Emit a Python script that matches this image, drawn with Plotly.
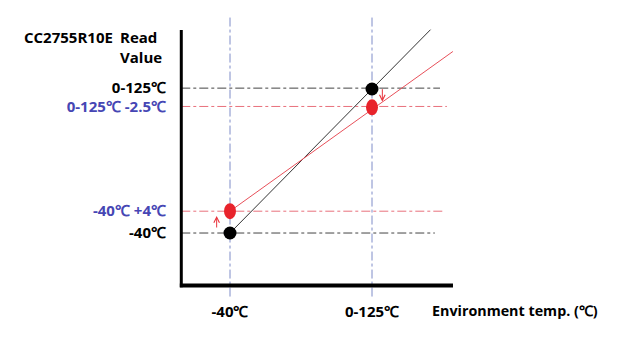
import plotly.graph_objects as go

# ---- data (schematic values) ----
env_temp = [-40, 125]                      # x positions (environment temp)
x_tick_labels = ["-40℃", "0-125℃"]
black_read = [-40, 125]                    # ideal read value
red_read = [-15, 104]                      # sensor read value (schematic offset)
black_line_x = [-40, 193]
black_line_y = [-40, 193]
red_line_x = [-40, 219]
red_line_y = [-15, 168]
y_tick_vals = [-40, -15, 105, 126]
y_tick_labels = ["-40℃", "-40℃ +4℃", "0-125℃ -2.5℃", "0-125℃"]
y_tick_colors = ["#000000", "#4646B4", "#4646B4", "#000000"]
guide_end_x = [198, 207, 212, 204]
guide_colors = ["#444444", "#E8707C", "#E8707C", "#444444"]

FONT = "Open Sans"
BLUE = "#4646B4"
RED = "#E8232B"

# layout geometry
X_RANGE = [-102.75, 222.6]
Y_RANGE = [-113.3, 207.5]
AX_X = -96.6       # y-axis line location (x value)
AX_Y = -100.2      # x-axis line location (y value)
AX_TOP = 192.6
AX_RIGHT = 219.1

fig = go.Figure()

# lines
fig.add_trace(go.Scatter(x=black_line_x, y=black_line_y, mode="lines",
                         line=dict(color="#333333", width=1), hoverinfo="skip"))
fig.add_trace(go.Scatter(x=red_line_x, y=red_line_y, mode="lines",
                         line=dict(color="#E8505A", width=1), hoverinfo="skip"))
# black dots
fig.add_trace(go.Scatter(x=env_temp, y=black_read, mode="markers",
                         marker=dict(color="black", size=13, line=dict(width=0)),
                         hoverinfo="skip"))

shapes = []
# vertical guides
for xv in env_temp:
    shapes.append(dict(type="line", xref="x", yref="y", x0=xv, x1=xv,
                       y0=Y_RANGE[0] + 0.5, y1=Y_RANGE[1] - 0.5,
                       line=dict(color="#7F8CC8", width=1, dash="dashdot"),
                       layer="below"))
# horizontal guides
for yv, xe, c in zip(y_tick_vals, guide_end_x, guide_colors):
    shapes.append(dict(type="line", xref="x", yref="y", x0=AX_X, x1=xe,
                       y0=yv, y1=yv, line=dict(color=c, width=1, dash="dashdot"),
                       layer="below"))
# axes
shapes.append(dict(type="line", xref="x", yref="y", x0=AX_X, x1=AX_X,
                   y0=AX_Y - 2, y1=AX_TOP, line=dict(color="black", width=3)))
shapes.append(dict(type="line", xref="x", yref="y", x0=AX_X - 1.7, x1=AX_RIGHT,
                   y0=AX_Y, y1=AX_Y, line=dict(color="black", width=4)))
# red elliptical dots
for xv, yv in zip(env_temp, red_read):
    shapes.append(dict(type="circle", xref="x", yref="y",
                       xsizemode="pixel", xanchor=xv, x0=-6, x1=6,
                       ysizemode="pixel", yanchor=yv, y0=-8, y1=8,
                       fillcolor=RED, line=dict(width=0), layer="above"))

annotations = [
    dict(xref="paper", yref="paper", x=(22 - 176) / 280, y=(297 - 37) / 280,
         text="CC2755R10E", showarrow=False, xanchor="left", yanchor="middle",
         font=dict(family=FONT, size=15, color="black", weight="bold")),
    dict(xref="paper", yref="paper", x=(118 - 176) / 280, y=(297 - 47) / 280,
         text="Read<br>Value", showarrow=False, xanchor="left", yanchor="middle",
         align="left",
         font=dict(family=FONT, size=15, color="black", weight="bold")),
    dict(xref="paper", yref="paper", x=(430 - 176) / 280, y=(297 - 310) / 280,
         text="Environment temp. (℃)", showarrow=False, xanchor="left",
         yanchor="middle",
         font=dict(family=FONT, size=14.3, color="black", weight="bold")),
    # arrows
    dict(x=-55.5, y=-20.5, ax=0, ay=13, showarrow=True, arrowhead=5,
         arrowsize=1.1, arrowwidth=1, arrowcolor="#E8323C", text=""),
    dict(x=137, y=110.5, ax=0, ay=-14, showarrow=True, arrowhead=5,
         arrowsize=1.1, arrowwidth=1, arrowcolor="#E8323C", text=""),
]

y_ticktext = [f"<span style='color:{c}'>{t}</span>"
              for t, c in zip(y_tick_labels, y_tick_colors)]

fig.update_layout(
    width=640, height=353,
    margin=dict(l=176, r=184, t=17, b=56),
    paper_bgcolor="white", plot_bgcolor="white",
    showlegend=False,
    shapes=shapes, annotations=annotations,
    xaxis=dict(range=X_RANGE, showgrid=False, zeroline=False, showline=False,
               tickvals=env_temp, ticktext=x_tick_labels,
               ticks="outside", ticklen=1, tickcolor="rgba(0,0,0,0)",
               tickfont=dict(family=FONT, size=15, color="black", weight="bold"),
               fixedrange=True),
    yaxis=dict(range=Y_RANGE, showgrid=False, zeroline=False, showline=False,
               tickvals=y_tick_vals, ticktext=y_ticktext,
               ticks="outside", ticklen=6, tickcolor="rgba(0,0,0,0)",
               tickfont=dict(family=FONT, size=15, color="black", weight="bold"),
               fixedrange=True),
)

fig.write_html("out.html")
